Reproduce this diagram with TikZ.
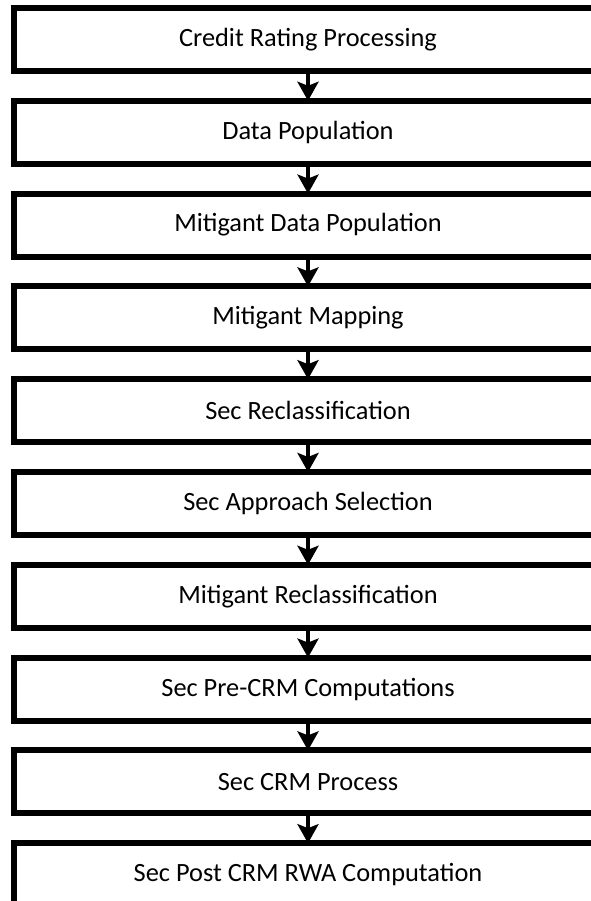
\documentclass[tikz,border=0pt]{standalone}
\usepackage{fontspec}
\setmainfont{Carlito}
\usetikzlibrary{arrows.meta, positioning}
\definecolor{colBorder}{RGB}{0,0,0}
\tikzset{
    block/.style={rectangle, draw=colBorder, line width=0.12cm, outer sep=0pt,
        minimum width=11.76cm, minimum height=1.26cm, align=center,
        font=\fontsize{15}{18}\selectfont},
    arrow/.style={-{Stealth[width=0.42cm, length=0.38cm, inset=0.08cm]}, line width=0.09cm}
}

\begin{document}
\begin{tikzpicture}[node distance=0.596cm]
    \useasboundingbox (0,0) rectangle (11.8,-18.02);
    \node[block] at (6.16,-0.79) (rating) {Credit Rating Processing};
    \node[block, below=of rating] (datapop) {Data Population};
    \node[block, below=of datapop] (mitpop) {Mitigant Data Population};
    \node[block, below=of mitpop] (mitmap) {Mitigant Mapping};
    \node[block, below=of mitmap] (secrecl) {Sec Reclassification};
    \node[block, below=of secrecl] (approach) {Sec Approach Selection};
    \node[block, below=of approach] (mitrecl) {Mitigant Reclassification};
    \node[block, below=of mitrecl] (precrm) {Sec Pre-CRM Computations};
    \node[block, below=of precrm] (crm) {Sec CRM Process};
    \node[block, below=of crm] (postcrm) {Sec Post CRM RWA Computation};

    \draw[arrow] (rating) -- (datapop);
    \draw[arrow] (datapop) -- (mitpop);
    \draw[arrow] (mitpop) -- (mitmap);
    \draw[arrow] (mitmap) -- (secrecl);
    \draw[arrow] (secrecl) -- (approach);
    \draw[arrow] (approach) -- (mitrecl);
    \draw[arrow] (mitrecl) -- (precrm);
    \draw[arrow] (precrm) -- (crm);
    \draw[arrow] (crm) -- (postcrm);
\end{tikzpicture}
\end{document}
